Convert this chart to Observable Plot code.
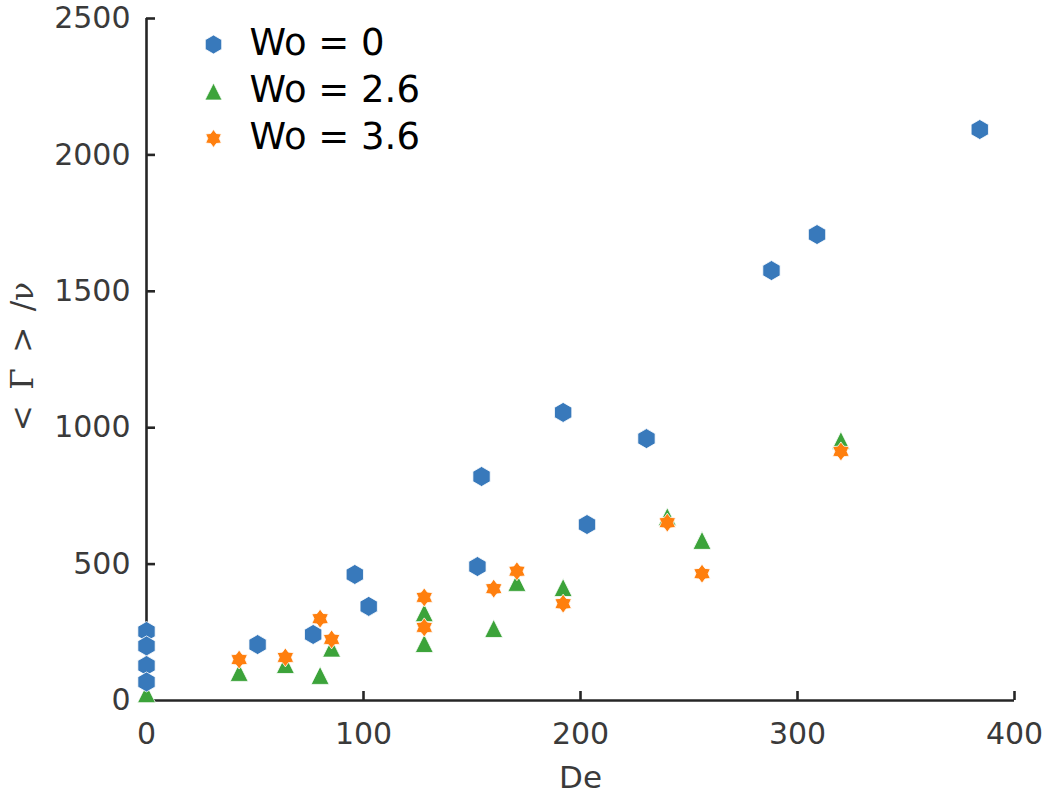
<!DOCTYPE html>
<html>
<head>
<meta charset="utf-8">
<script src="https://cdn.jsdelivr.net/npm/d3@7"></script>
<script src="https://cdn.jsdelivr.net/npm/@observablehq/plot@0.6"></script>
<style>
  html, body { margin: 0; padding: 0; background: #fff; }
</style>
</head>
<body>
<div id="chart"></div>
<script>
// ---- data ----
const seriesNames = ["Wo = 0", "Wo = 2.6", "Wo = 3.6"];

const deWo0  = [0, 0, 0, 0, 51.2, 76.8, 96, 102.4, 152.5, 154.4, 192, 203, 230.4, 288, 309, 384];
const valWo0 = [253, 200, 128, 68, 205, 242, 462, 345, 491, 821, 1056, 645, 960, 1576, 1708, 2093];

const deWo26  = [0, 42.7, 64, 80, 85.3, 128, 128, 160, 170.7, 192, 240, 256, 320];
const valWo26 = [25, 103, 132, 92, 192, 322, 209, 264, 433, 414, 674, 587, 953];

const deWo36  = [42.7, 64, 80, 85.3, 128, 128, 160, 170.7, 192, 240, 256, 320];
const valWo36 = [150, 158, 300, 224, 378, 268, 410, 474, 355, 652, 465, 913];

const xTicks = [0, 100, 200, 300, 400];
const yTicks = [0, 500, 1000, 1500, 2000, 2500];

const xLabel = "De";
const yLabel = "<\u2002Γ\u2002>\u2002/ν";

// ---- symbols ----
const hexagonSym = {
  draw(ctx, size) {
    const r = Math.sqrt(size / Math.PI);
    for (let i = 0; i < 6; i++) {
      const a = (-90 + 60 * i) * Math.PI / 180;
      const px = r * Math.cos(a), py = r * Math.sin(a);
      if (i === 0) ctx.moveTo(px, py); else ctx.lineTo(px, py);
    }
    ctx.closePath();
  }
};
const triangleSym = {
  draw(ctx, size) {
    const r = Math.sqrt(size / Math.PI);
    ctx.moveTo(0, -r);
    ctx.lineTo(r, r);
    ctx.lineTo(-r, r);
    ctx.closePath();
  }
};
const starSym = {
  draw(ctx, size) {
    const R = Math.sqrt(size / Math.PI), ri = R * 0.64;
    for (let i = 0; i < 12; i++) {
      const a = (-90 + 30 * i) * Math.PI / 180;
      const rr = i % 2 === 0 ? R : ri;
      const px = rr * Math.cos(a), py = rr * Math.sin(a);
      if (i === 0) ctx.moveTo(px, py); else ctx.lineTo(px, py);
    }
    ctx.closePath();
  }
};

const colors = ["#3879bb", "#3ca33a", "#ff7f0e"];
const symbols = [hexagonSym, triangleSym, starSym];
const radii = [10, 9, 9.5];

const mk = (de, val) => de.map((d, i) => ({de: d, v: val[i]}));
const data = [mk(deWo0, valWo0), mk(deWo26, valWo26), mk(deWo36, valWo36)];
const drawOrder = [1, 0, 2];

const axisColor = "#262626";
const textColor = "#3a3a3a";
const fmt = d => String(d);

const W = 1050, H = 796, mL = 146, mR = 36, mT = 18, mB = 96;
const tickLen = 9;
const frameW = W - mL - mR, frameH = H - mT - mB;

const marks = [
  Plot.ruleY([0], {stroke: axisColor, strokeWidth: 2.6}),
  Plot.ruleX([0], {stroke: axisColor, strokeWidth: 2.6}),
  // inward ticks
  Plot.ruleX(xTicks, {x: d => d, insetTop: frameH - tickLen, stroke: axisColor, strokeWidth: 2.6}),
  Plot.ruleY(yTicks, {y: d => d, insetRight: frameW - tickLen, stroke: axisColor, strokeWidth: 2.6}),
  // tick labels
  Plot.axisX({ticks: xTicks, tickSize: 0, tickPadding: 22, fontSize: 30, fill: textColor, tickFormat: fmt, label: null}),
  Plot.axisY({ticks: yTicks, tickSize: 0, tickPadding: 16, fontSize: 30, fill: textColor, tickFormat: fmt, label: null}),
  // axis titles
  Plot.text([xLabel], {frameAnchor: "bottom", dy: 78, fontSize: 31, fill: textColor, text: d => d,
    textAnchor: "middle", lineAnchor: "middle"}),
  Plot.text([yLabel], {frameAnchor: "left", dx: -123, dy: -3, rotate: -90, fontSize: 31, fill: textColor,
    fontFamily: "'DejaVu Serif', serif", text: d => d, textAnchor: "middle", lineAnchor: "middle"})
];

for (const i of drawOrder) {
  marks.push(Plot.dot(data[i], {
    x: "de", y: "v", fill: colors[i], symbol: symbols[i], r: radii[i],
    stroke: "white", strokeWidth: 0.8
  }));
}

// legend
seriesNames.forEach((name, i) => {
  marks.push(Plot.dot([name], {frameAnchor: "top-left", dx: 67, dy: 26 + i * 47,
    fill: colors[i], symbol: symbols[i], r: radii[i] * 0.95, stroke: "white", strokeWidth: 0.8}));
  marks.push(Plot.text([name], {frameAnchor: "top-left", dx: 103, dy: 25 + i * 47,
    text: d => d, textAnchor: "start", lineAnchor: "middle", fontSize: 37, fill: "#000"}));
});

const chart = Plot.plot({
  width: W,
  height: H,
  marginLeft: mL,
  marginRight: mR,
  marginTop: mT,
  marginBottom: mB,
  x: {domain: [0, 400]},
  y: {domain: [0, 2500]},
  style: {fontFamily: "'DejaVu Sans', sans-serif", background: "white", overflow: "visible"},
  marks
});
document.getElementById("chart").appendChild(chart);
</script>
</body>
</html>
